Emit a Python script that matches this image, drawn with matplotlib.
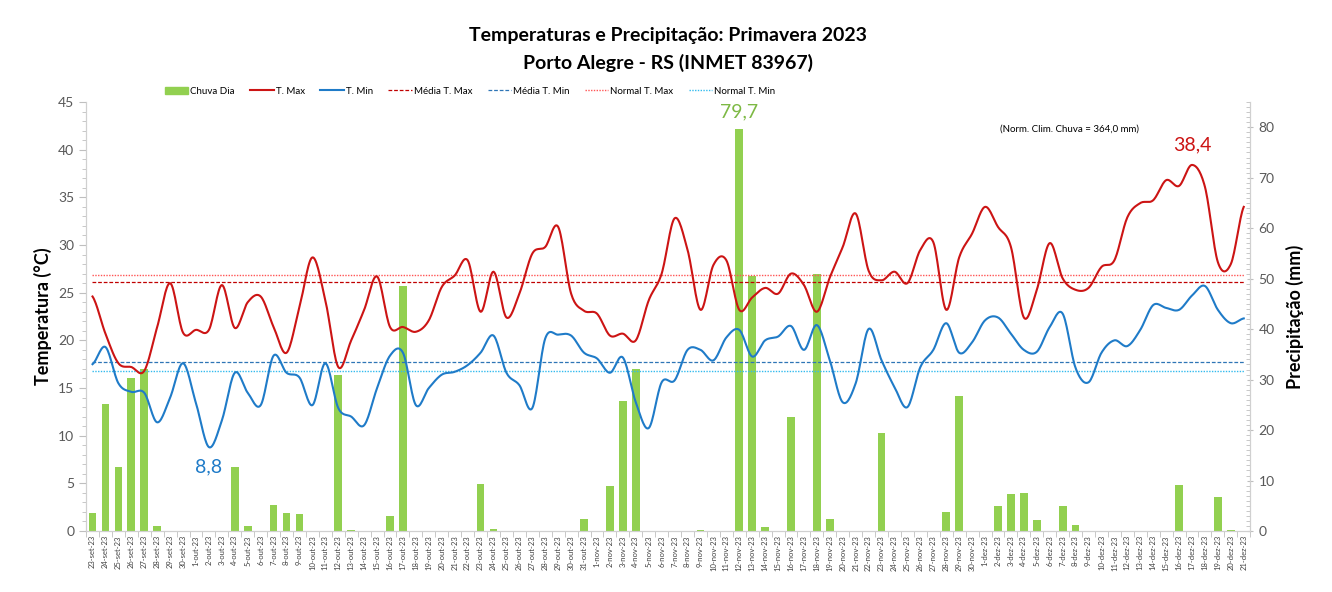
import numpy as np
import pandas as pd
import matplotlib
matplotlib.use('Agg')
import matplotlib.pyplot as plt
from matplotlib.ticker import MultipleLocator, FixedLocator
from matplotlib.lines import Line2D
from matplotlib.patches import Patch

plt.rcParams['font.family'] = ['Lato', 'DejaVu Sans']

# daily data, 23-set-23 .. 21-dez-23
meses = {9: 'set', 10: 'out', 11: 'nov', 12: 'dez'}
dias = pd.date_range('2023-09-23', '2023-12-21')
rotulos = ['%d-%s-23' % (d.day, meses[d.month]) for d in dias]

t_max = [24.6, 20.7, 17.6, 17.2, 16.8, 21.4, 26.0, 20.8, 21.1, 21.1,
         25.8, 21.3, 24.0, 24.6, 21.4, 18.7, 23.5, 28.7, 24.2, 17.2,
         20.0, 23.2, 26.7, 21.4, 21.4, 20.9, 22.1, 25.6, 26.8, 28.4,
         23.0, 27.2, 22.4, 24.9, 29.1, 29.8, 31.9, 24.9, 23.1, 22.8,
         20.5, 20.7, 20.0, 24.2, 27.0, 32.8, 29.5, 23.2, 27.9, 28.4,
         23.2, 24.5, 25.5, 24.9, 27.0, 25.8, 23.0, 26.6, 29.8, 33.3,
         27.3, 26.3, 27.2, 26.0, 29.5, 30.3, 23.2, 28.7, 31.2, 34.0,
         31.9, 29.8, 22.4, 25.3, 30.2, 26.5, 25.3, 25.5, 27.7, 28.4,
         32.9, 34.4, 34.7, 36.8, 36.2, 38.4, 36.1, 28.2, 28.0, 34.0]

t_min = [17.5, 19.3, 15.5, 14.6, 14.5, 11.4, 14.0, 17.6, 13.4, 8.8,
         11.6, 16.6, 14.5, 13.2, 18.4, 16.6, 16.1, 13.2, 17.6, 12.9,
         12.0, 11.1, 15.0, 18.4, 18.7, 13.2, 15.0, 16.4, 16.7, 17.4,
         18.7, 20.5, 16.6, 15.3, 12.9, 20.2, 20.6, 20.5, 18.7, 18.1,
         16.6, 18.2, 13.5, 10.8, 15.6, 15.8, 19.0, 19.0, 17.9, 20.3,
         21.1, 18.3, 20.0, 20.4, 21.5, 19.0, 21.6, 17.9, 13.5, 15.5,
         21.2, 17.9, 15.1, 13.0, 17.2, 19.0, 21.8, 18.7, 19.8, 22.1,
         22.4, 20.7, 19.0, 18.8, 21.4, 22.8, 17.1, 15.6, 18.7, 20.0,
         19.4, 21.1, 23.7, 23.4, 23.2, 24.7, 25.7, 23.2, 21.8, 22.3]

chuva = [3.6, 25.1, 12.7, 30.4, 32.2, 1.0, 0, 0, 0, 0,
         0, 12.7, 1.0, 0, 5.1, 3.6, 3.4, 0, 0, 31.0,
         0.2, 0, 0, 3.0, 48.6, 0, 0, 0, 0, 0,
         9.3, 0.5, 0, 0, 0, 0, 0, 0, 2.4, 0.1,
         8.9, 25.7, 32.2, 0, 0, 0, 0, 0.3, 0, 0,
         79.7, 50.6, 0.7, 0, 22.5, 0, 51.0, 2.4, 0, 0,
         0, 19.4, 0, 0, 0, 0, 3.8, 26.7, 0, 0,
         4.9, 7.3, 7.5, 2.2, 0, 4.9, 1.2, 0, 0, 0,
         0, 0, 0.1, 0, 9.1, 0, 0, 6.7, 0.2, 0]

media_tmax = 26.1
media_tmin = 17.7
normal_tmax = 26.9
normal_tmin = 16.8


def suaviza(y, n=16):
    # catmull-rom, like the excel "smoothed line"
    y = np.asarray(y, dtype=float)
    xs, ys = [], []
    for i in range(len(y) - 1):
        p0 = y[i - 1] if i > 0 else y[i]
        p1, p2 = y[i], y[i + 1]
        p3 = y[i + 2] if i + 2 < len(y) else y[i + 1]
        t = np.linspace(0, 1, n, endpoint=False)
        yy = 0.5 * (2 * p1 + (-p0 + p2) * t + (2 * p0 - 5 * p1 + 4 * p2 - p3) * t ** 2
                    + (-p0 + 3 * p1 - 3 * p2 + p3) * t ** 3)
        xs.append(i + t)
        ys.append(yy)
    xs.append([len(y) - 1])
    ys.append([y[-1]])
    return np.concatenate(xs), np.concatenate(ys)


verde = '#92D050'
vermelho = '#CC1414'
azul = '#1F7BC8'
cinza = '#595959'

fig = plt.figure(figsize=(13.32, 5.92), dpi=100)
ax = fig.add_axes([0.0646, 0.103, 0.874, 0.7247])
axt = ax.twinx()
x = np.arange(len(rotulos))

# bars on the precipitation scale (right)
ax.bar(x, chuva, width=0.6, color=verde, zorder=2)
ax.set_ylim(0, 85)
ax.yaxis.tick_right()
ax.yaxis.set_label_position('right')
ax.yaxis.set_major_locator(FixedLocator(range(0, 81, 10)))
ax.yaxis.set_minor_locator(MultipleLocator(1))
ax.set_ylabel('Precipitação (mm)', fontsize=13, fontweight='bold', labelpad=8)
ax.tick_params(axis='y', which='major', labelsize=10, colors='#BFBFBF',
               labelcolor=cinza, length=5, direction='inout')
ax.tick_params(axis='y', which='minor', colors='#BFBFBF', length=3, direction='in')

# temperatures (left)
axt.yaxis.tick_left()
axt.yaxis.set_label_position('left')
axt.set_ylim(0, 45)
axt.yaxis.set_major_locator(MultipleLocator(5))
axt.yaxis.set_minor_locator(MultipleLocator(1))
axt.set_ylabel('Temperatura (°C)', fontsize=13, fontweight='bold', labelpad=4)
axt.tick_params(axis='y', which='major', labelsize=10, colors='#BFBFBF',
                labelcolor=cinza, length=5)
axt.tick_params(axis='y', which='minor', colors='#BFBFBF', length=3)

xs, ys = suaviza(t_max)
axt.plot(xs, ys, color=vermelho, lw=1.5, zorder=4)
xs, ys = suaviza(t_min)
axt.plot(xs, ys, color=azul, lw=1.5, zorder=4)
axt.axhline(media_tmax, xmin=0.005, xmax=0.995, color='#C00000', ls=(0, (3, 1.5)), lw=0.9)
axt.axhline(normal_tmax, xmin=0.005, xmax=0.995, color='#FF5555', ls=(0, (1, 1)), lw=1.0)
axt.axhline(media_tmin, xmin=0.005, xmax=0.995, color='#2E75B6', ls=(0, (3, 1.5)), lw=0.9)
axt.axhline(normal_tmin, xmin=0.005, xmax=0.995, color='#33BBEE', ls=(0, (1, 1)), lw=1.0)

# highlight values
i_chuva = int(np.argmax(chuva))
ax.annotate('79,7', (i_chuva, chuva[i_chuva]), xytext=(0, 6), textcoords='offset points',
            ha='center', va='bottom', color='#7DB944', fontsize=14)
i_max = int(np.argmax(t_max))
axt.annotate('38,4', (i_max, t_max[i_max]), xytext=(0, 8), textcoords='offset points',
             ha='center', va='bottom', color=vermelho, fontsize=14)
i_min = int(np.argmin(t_min))
axt.annotate('8,8', (i_min, t_min[i_min]), xytext=(0, -8), textcoords='offset points',
             ha='center', va='top', color=azul, fontsize=14)
fig.text(0.751, 0.778, '(Norm. Clim. Chuva = 364,0 mm)', fontsize=7, color='black')

# x axis
ax.set_xlim(-0.5, len(rotulos) - 0.5)
ax.set_xticks(x)
ax.set_xticklabels(rotulos, rotation=90, fontsize=5.5, color='#404040')
ax.set_xticks(np.arange(-0.5, len(rotulos), 1), minor=True)
ax.tick_params(axis='x', which='major', length=0, pad=3)
ax.tick_params(axis='x', which='minor', length=4, color='#BFBFBF')

for a in (ax, axt):
    a.spines['top'].set_visible(False)
    for s in ('left', 'right', 'bottom'):
        a.spines[s].set_color('#D0D0D0')

fig.text(0.5015, 0.94, 'Temperaturas e Precipitação: Primavera 2023', ha='center',
         va='center', fontsize=14, fontweight='bold')
fig.text(0.5015, 0.893, 'Porto Alegre - RS (INMET 83967)', ha='center',
         va='center', fontsize=14, fontweight='bold')

handles = [Patch(color=verde),
           Line2D([], [], color=vermelho, lw=1.5),
           Line2D([], [], color=azul, lw=1.5),
           Line2D([], [], color='#C00000', ls=(0, (3, 1.5)), lw=0.9),
           Line2D([], [], color='#2E75B6', ls=(0, (3, 1.5)), lw=0.9),
           Line2D([], [], color='#FF5555', ls=(0, (1, 1)), lw=1.0),
           Line2D([], [], color='#33BBEE', ls=(0, (1, 1)), lw=1.0)]
nomes = ['Chuva Dia', 'T. Max', 'T. Min', 'Média T. Max', 'Média T. Min',
         'Normal T. Max', 'Normal T. Min']
fig.legend(handles, nomes, ncol=7, loc='center', bbox_to_anchor=(0.353, 0.846),
           frameon=False, fontsize=7, handlelength=2.4, handletextpad=0.2,
           columnspacing=1.6, handleheight=0.8)

fig.savefig('out.png', dpi=100)
